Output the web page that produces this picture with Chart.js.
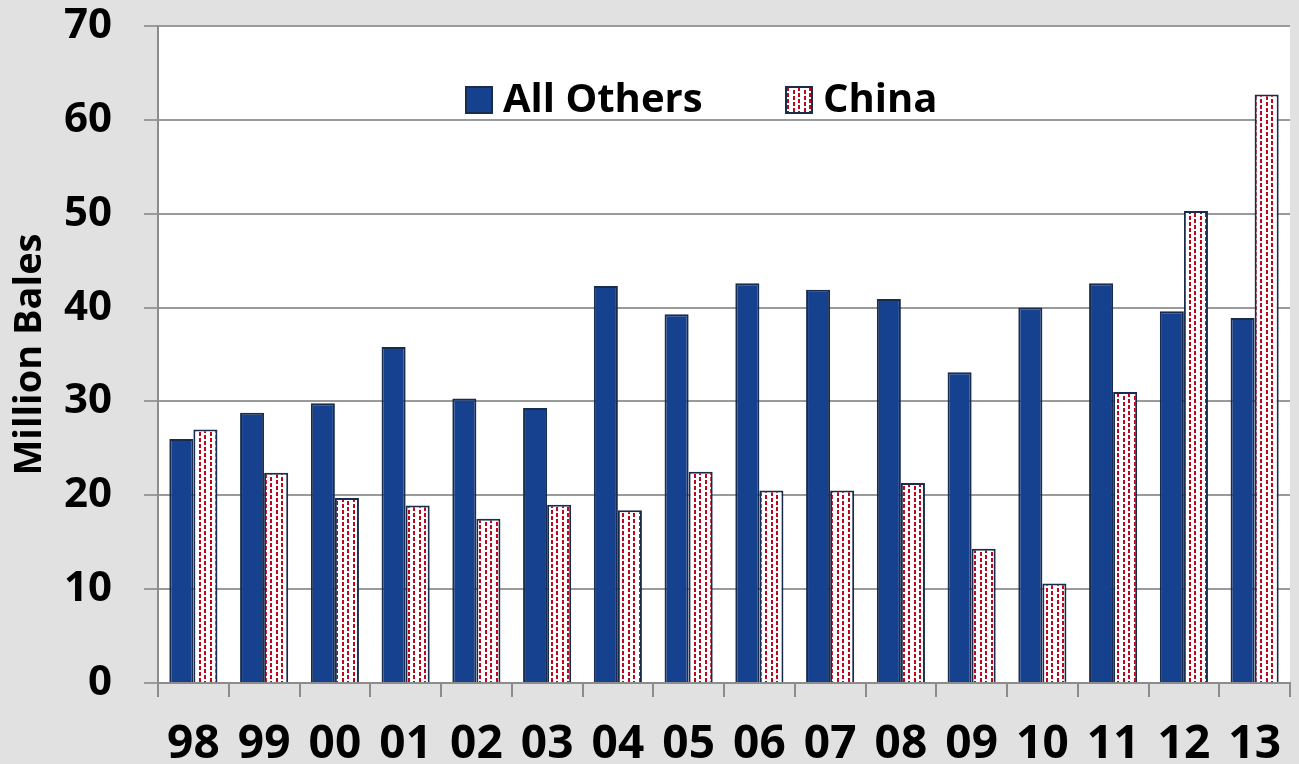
<!DOCTYPE html>
<html>
<head>
<meta charset="utf-8">
<script src="https://cdn.jsdelivr.net/npm/chart.js@4"></script>
<style>
  html, body { margin: 0; padding: 0; background: #e1e1e1; }
  #wrap { width: 1299px; height: 764px; position: relative; }
</style>
</head>
<body>
<div id="wrap"><canvas id="c" width="1299" height="764"></canvas></div>
<script>
const categories = ['98','99','00','01','02','03','04','05','06','07','08','09','10','11','12','13'];
const allOthers = [26.0, 28.8, 29.8, 35.8, 30.3, 29.3, 42.3, 39.3, 42.6, 41.9, 40.9, 33.1, 40.0, 42.6, 39.6, 38.9];
const china     = [27.0, 22.4, 19.7, 18.9, 17.5, 19.0, 18.4, 22.5, 20.5, 20.5, 21.3, 14.3, 10.6, 31.0, 50.3, 62.7];
const yTicks = [0, 10, 20, 30, 40, 50, 60, 70];
const seriesNames = ['All Others', 'China'];

function makePattern() {
  const p = document.createElement('canvas');
  p.width = 11; p.height = 6;
  const g = p.getContext('2d');
  g.fillStyle = '#ffffff';
  g.fillRect(0, 0, 11, 6);
  g.fillStyle = '#c0061f';
  g.fillRect(1, 0, 2, 4);
  g.fillRect(6, 3, 2, 3);
  g.fillRect(6, 0, 2, 1);
  return g.createPattern(p, 'repeat');
}
const chinaPattern = makePattern();

const FONT = '"Open Sans", "Liberation Sans", sans-serif';

const areaBg = {
  id: 'areaBg',
  beforeDraw(chart) {
    const { ctx, chartArea: a } = chart;
    ctx.save();
    ctx.fillStyle = '#ffffff';
    ctx.fillRect(a.left, a.top, a.right - a.left, a.bottom - a.top);
    ctx.restore();
  }
};

const legendPlugin = {
  id: 'innerLegend',
  afterDatasetsDraw(chart) {
    const ctx = chart.ctx;
    ctx.save();
    ctx.font = 'bold 40px ' + FONT;
    ctx.textBaseline = 'middle';
    ctx.textAlign = 'left';
    const items = [
      { x: 466, text: chart.data.datasets[0].label, fill: chart.data.datasets[0].backgroundColor },
      { x: 786, text: chart.data.datasets[1].label, fill: chart.data.datasets[1].backgroundColor }
    ];
    const y = 100;
    items.forEach(it => {
      ctx.fillStyle = it.fill;
      ctx.fillRect(it.x, y - 13, 26, 26);
      ctx.strokeStyle = '#1a2c4e';
      ctx.lineWidth = 2;
      ctx.strokeRect(it.x, y - 13, 26, 26);
      ctx.fillStyle = '#000';
      ctx.fillText(it.text, it.x + 37, y + 1);
    });
    ctx.restore();
  }
};

new Chart(document.getElementById('c'), {
  type: 'bar',
  data: {
    labels: categories,
    datasets: [
      { label: seriesNames[0], data: allOthers, backgroundColor: '#16418f', borderColor: '#1a2c4e', borderWidth: 2, categoryPercentage: 0.68, barPercentage: 1.0 },
      { label: seriesNames[1], data: china, backgroundColor: chinaPattern, borderColor: '#1a2c4e', borderWidth: 2, categoryPercentage: 0.68, barPercentage: 1.0 }
    ]
  },
  options: {
    responsive: false,
    animation: false,
    layout: { padding: { top: 0, right: 9, left: 0, bottom: 0 } },
    plugins: { legend: { display: false }, tooltip: { enabled: false } },
    scales: {
      x: {
        offset: true,
        grid: { display: true, drawOnChartArea: false, drawTicks: true, tickLength: 14, offset: true, color: '#8c8c8c', lineWidth: 2 },
        border: { display: true, color: '#8c8c8c', width: 2 },
        ticks: { color: '#000', font: { family: FONT, size: 46, weight: 'bold' }, padding: 20, maxRotation: 0 },
        afterFit(s) { s.height = 764 - 683; s.paddingLeft = 0; s.paddingRight = 0; }
      },
      y: {
        min: 0, max: 70,
        afterBuildTicks(s) { s.ticks = yTicks.map(v => ({ value: v })); },
        grid: { color: '#9a9a9a', lineWidth: 2, tickLength: 14, drawTicks: true },
        border: { display: true, color: '#8c8c8c', width: 2 },
        ticks: { color: '#000', font: { family: FONT, size: 42, weight: 'bold' }, padding: 32 },
        title: { display: true, text: 'Million Bales', color: '#000', font: { family: FONT, size: 38, weight: 'bold' }, padding: { top: 7, bottom: 0 } },
        afterFit(s) { s.width = 158; s.paddingTop = 26; s.paddingBottom = 0; }
      }
    }
  },
  plugins: [areaBg, legendPlugin]
});
</script>
</body>
</html>
